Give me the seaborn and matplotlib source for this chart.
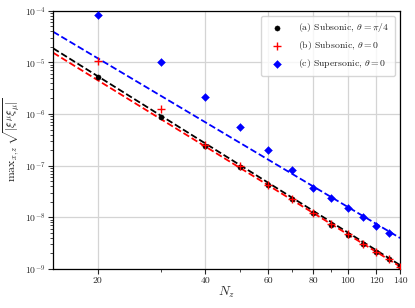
import numpy as np
import pandas as pd
import matplotlib
matplotlib.use("Agg")
import matplotlib.pyplot as plt
import matplotlib.ticker as mticker
import seaborn as sns

sns.set_style("whitegrid", {"axes.edgecolor": "black", "grid.color": "#d4d4d4",
                            "xtick.bottom": True, "ytick.left": True})
plt.rcParams["font.family"] = "serif"
plt.rcParams["font.serif"] = ["cmr10"]
plt.rcParams["mathtext.fontset"] = "cm"
plt.rcParams["axes.formatter.use_mathtext"] = True
plt.rcParams["axes.unicode_minus"] = False

# ── Data ──────────────────────────────────────────────────
nz_a = [20, 30, 40, 50, 60, 70, 80, 90, 100, 110, 120, 130, 140]
val_a = [5.3e-6, 8.9e-7, 2.45e-7, 9.6e-8, 4.25e-8, 2.25e-8, 1.2e-8, 7.2e-9,
         4.6e-9, 3.07e-9, 2.12e-9, 1.55e-9, 1.12e-9]

nz_b = [20, 30, 40, 50, 60, 70, 80, 90, 100, 110, 120, 130, 140]
val_b = [1.08e-5, 1.24e-6, 2.5e-7, 9.8e-8, 4.3e-8, 2.28e-8, 1.22e-8, 7.3e-9,
         4.7e-9, 3.1e-9, 2.15e-9, 1.57e-9, 1.1e-9]

nz_c = [20, 30, 40, 50, 60, 70, 80, 90, 100, 110, 120, 130]
val_c = [8.4e-5, 1.03e-5, 2.1e-6, 5.7e-7, 2.02e-7, 8.3e-8, 3.77e-8, 2.31e-8,
         1.48e-8, 1.01e-8, 6.9e-9, 4.9e-9]

# power-law fits: log10(value at N=15) and exponent
fit_log_at15 = [-4.727, -4.812, -4.406]
fit_slope = [-4.33, -4.27, -4.12]

labels = [r"(a) Subsonic, $\theta = \pi/4$",
          r"(b) Subsonic, $\theta = 0$",
          r"(c) Supersonic, $\theta = 0$"]
colors = ["black", "red", "blue"]
markers = ["o", "+", "D"]
sizes = [14, 40, 16]

series = [(nz_a, val_a), (nz_b, val_b), (nz_c, val_c)]

fig, ax = plt.subplots(figsize=(4.15, 3.08), dpi=100)
fig.subplots_adjust(left=0.128, right=0.964, top=0.965, bottom=0.127)

n_line = np.geomspace(15, 140, 100)
for i, (nz, val) in enumerate(series):
    fit = pd.DataFrame({"N": n_line,
                        "v": 10 ** (fit_log_at15[i] + fit_slope[i] * np.log10(n_line / 15))})
    sns.lineplot(data=fit, x="N", y="v", ax=ax, color=colors[i], linestyle="--",
                 linewidth=1.3, zorder=2)

for i, (nz, val) in enumerate(series):
    df = pd.DataFrame({"N": nz, "v": val})
    kw = dict(linewidth=1.0) if markers[i] == "+" else dict(edgecolor=colors[i])
    sns.scatterplot(data=df, x="N", y="v", ax=ax, color=colors[i], marker=markers[i],
                    s=sizes[i], label=labels[i], zorder=3, **kw)

ax.set_xscale("log")
ax.set_yscale("log")
ax.set_xlim(15, 140)
ax.set_ylim(1e-9, 1e-4)
ax.xaxis.set_major_locator(mticker.FixedLocator([20, 40, 60, 80, 100, 120, 140]))
ax.xaxis.set_major_formatter(mticker.FormatStrFormatter("%d"))
ax.xaxis.set_minor_locator(mticker.FixedLocator([30, 50, 70, 90]))
ax.xaxis.set_minor_formatter(mticker.NullFormatter())
ax.yaxis.set_major_locator(mticker.LogLocator(base=10, numticks=10))
ax.yaxis.set_minor_locator(mticker.LogLocator(base=10, subs=np.arange(2, 10), numticks=20))
ax.yaxis.set_minor_formatter(mticker.NullFormatter())
ax.tick_params(axis="both", which="major", labelsize=7, length=3.5, width=0.8, pad=2)
ax.tick_params(axis="both", which="minor", length=2, width=0.6)
ax.grid(True, which="major", linewidth=0.9)
ax.grid(False, which="minor")
for s in ax.spines.values():
    s.set_linewidth(0.9)

ax.set_xlabel(r"$N_z$", fontsize=9.5, labelpad=0)
ax.set_ylabel(r"$\mathrm{max}_{x,z}\,\sqrt{|\xi^\mu\xi_\mu|}$", fontsize=8.5, labelpad=1)

ax.legend(loc="upper right", fontsize=7, frameon=True, framealpha=0.8,
          edgecolor="#cccccc", handletextpad=1.2, borderpad=0.6)

fig.savefig("out.png", dpi=100)
